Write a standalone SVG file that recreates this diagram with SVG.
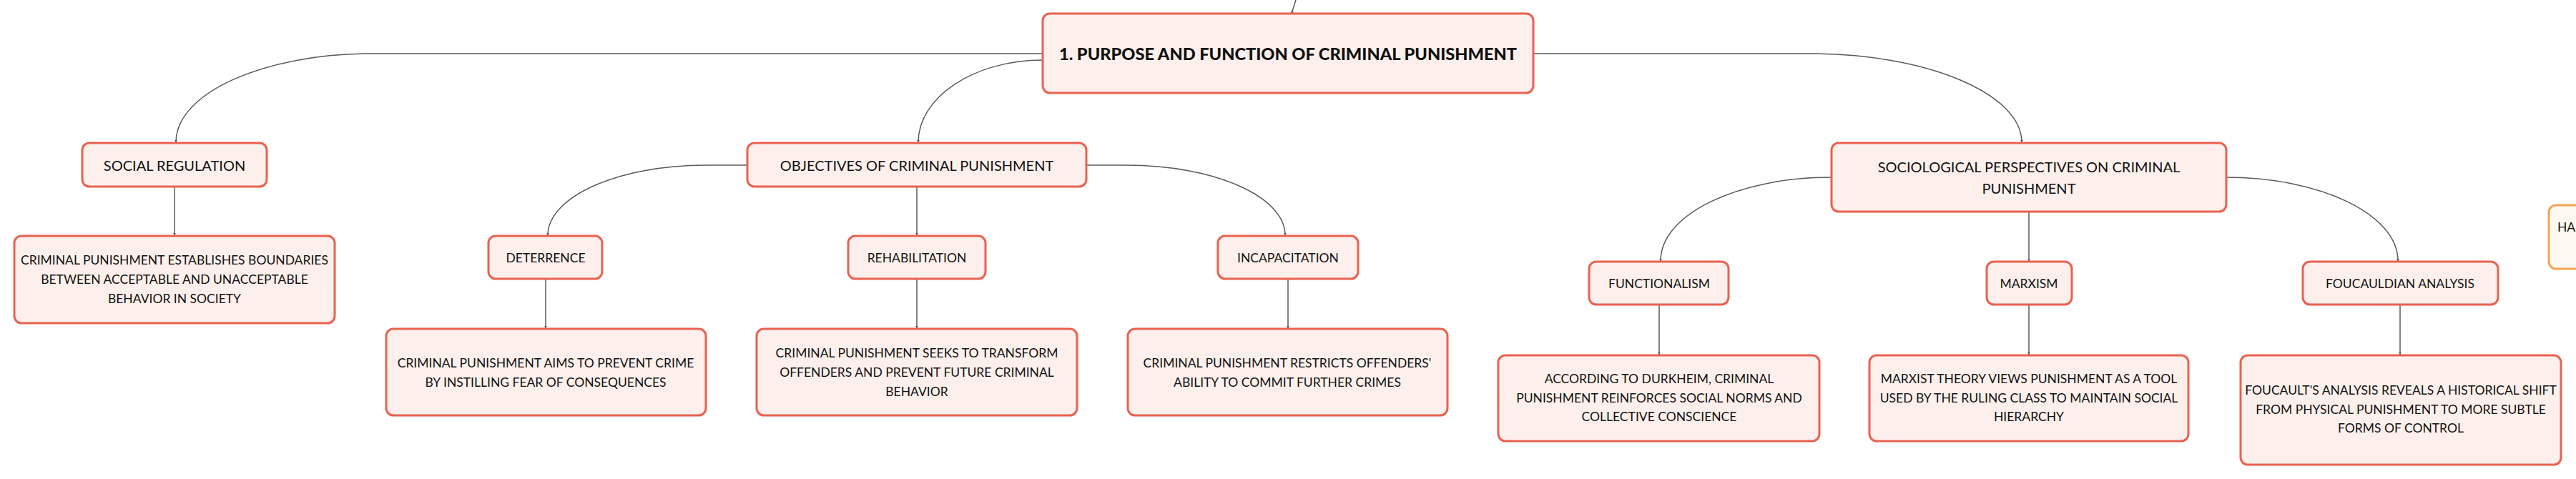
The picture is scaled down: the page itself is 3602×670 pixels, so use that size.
<svg xmlns="http://www.w3.org/2000/svg" width="3602" height="670" viewBox="0 0 3602 670">
<style>
.box{fill:#FDF0EC;stroke:#EA6150;stroke-width:3}
.obox{fill:#FFF8F0;stroke:#F2A552;stroke-width:3}
.t{font-family:Lato,"Noto Sans","Liberation Sans",sans-serif;fill:#111;text-anchor:middle;dominant-baseline:central}
.t18{font-size:17.5px}
.t20{font-size:20px}
.root{font-size:23.6px;font-weight:900}
.c{fill:none;stroke:#5a5a5a;stroke-width:1.5;marker-end:url(#ah)}
</style>
<defs>
<marker id="ah" viewBox="0 0 6 6" refX="5" refY="3" markerWidth="4" markerHeight="4" orient="auto" markerUnits="userSpaceOnUse">
<path d="M0,0 L6,3 L0,6 z" fill="#5a5a5a"/>
</marker>
</defs>
<rect width="3602" height="670" fill="#ffffff"/>
<g id="connectors">
<path class="c" d="M1812,0 L1806,19"/>
<path class="c" d="M1458,75 H520 C369,75 246,130 246,199"/>
<path class="c" d="M1458,84 C1362,84 1284,136 1284,199"/>
<path class="c" d="M1045,231 H987 C865,231 766,275 766,329"/>
<path class="c" d="M1282,261 V329"/>
<path class="c" d="M1519,231 H1575 C1698,231 1797,275 1797,329"/>
<path class="c" d="M244,261 V329"/>
<path class="c" d="M763,390 V459"/>
<path class="c" d="M1282,390 V459"/>
<path class="c" d="M1801,390 V459"/>
<path class="c" d="M2144,75 H2530 C2694,75 2827,131 2827,199"/>
<path class="c" d="M2561,248 C2429,248 2322,300 2322,365"/>
<path class="c" d="M2837,296 V365"/>
<path class="c" d="M3113,248 C3245,248 3353,300 3353,365"/>
<path class="c" d="M2320,426 V496"/>
<path class="c" d="M2837,426 V496"/>
<path class="c" d="M3356,426 V496"/>
</g>
<g id="root">
<rect class="box" x="1458" y="19" width="686" height="111" rx="10"/>
<text class="t root" x="1801" y="75">1. PURPOSE AND FUNCTION OF CRIMINAL PUNISHMENT</text>
</g>
<g id="social-regulation">
<rect class="box" x="115" y="200" width="258" height="61" rx="10"/>
<text class="t t20" x="244" y="231">SOCIAL REGULATION</text>
</g>
<g id="social-regulation-desc">
<rect class="box" x="20" y="330" width="448" height="122" rx="10"/>
<text class="t t18" x="244" y="363">CRIMINAL PUNISHMENT ESTABLISHES BOUNDARIES</text>
<text class="t t18" x="244" y="390">BETWEEN ACCEPTABLE AND UNACCEPTABLE</text>
<text class="t t18" x="244" y="417">BEHAVIOR IN SOCIETY</text>
</g>
<g id="objectives">
<rect class="box" x="1045" y="200" width="474" height="61" rx="10"/>
<text class="t t20" x="1282" y="231">OBJECTIVES OF CRIMINAL PUNISHMENT</text>
</g>
<g id="deterrence">
<rect class="box" x="683" y="330" width="159" height="60" rx="10"/>
<text class="t t18" x="763" y="360">DETERRENCE</text>
</g>
<g id="deterrence-desc">
<rect class="box" x="540" y="460" width="447" height="121" rx="10"/>
<text class="t t18" x="763" y="507">CRIMINAL PUNISHMENT AIMS TO PREVENT CRIME</text>
<text class="t t18" x="763" y="534">BY INSTILLING FEAR OF CONSEQUENCES</text>
</g>
<g id="rehabilitation">
<rect class="box" x="1186" y="330" width="192" height="60" rx="10"/>
<text class="t t18" x="1282" y="360">REHABILITATION</text>
</g>
<g id="rehabilitation-desc">
<rect class="box" x="1058" y="460" width="448" height="121" rx="10"/>
<text class="t t18" x="1282" y="493">CRIMINAL PUNISHMENT SEEKS TO TRANSFORM</text>
<text class="t t18" x="1282" y="520">OFFENDERS AND PREVENT FUTURE CRIMINAL</text>
<text class="t t18" x="1282" y="547">BEHAVIOR</text>
</g>
<g id="incapacitation">
<rect class="box" x="1703" y="330" width="196" height="60" rx="10"/>
<text class="t t18" x="1801" y="360">INCAPACITATION</text>
</g>
<g id="incapacitation-desc">
<rect class="box" x="1577" y="460" width="447" height="121" rx="10"/>
<text class="t t18" x="1800" y="507">CRIMINAL PUNISHMENT RESTRICTS OFFENDERS'</text>
<text class="t t18" x="1800" y="534">ABILITY TO COMMIT FURTHER CRIMES</text>
</g>
<g id="sociological">
<rect class="box" x="2561" y="200" width="552" height="96" rx="10"/>
<text class="t t20" x="2837" y="233">SOCIOLOGICAL PERSPECTIVES ON CRIMINAL</text>
<text class="t t20" x="2837" y="263">PUNISHMENT</text>
</g>
<g id="functionalism">
<rect class="box" x="2222" y="366" width="195" height="60" rx="10"/>
<text class="t t18" x="2320" y="396">FUNCTIONALISM</text>
</g>
<g id="functionalism-desc">
<rect class="box" x="2095" y="497" width="449" height="120" rx="10"/>
<text class="t t18" x="2320" y="529">ACCORDING TO DURKHEIM, CRIMINAL</text>
<text class="t t18" x="2320" y="556">PUNISHMENT REINFORCES SOCIAL NORMS AND</text>
<text class="t t18" x="2320" y="582">COLLECTIVE CONSCIENCE</text>
</g>
<g id="marxism">
<rect class="box" x="2778" y="366" width="119" height="60" rx="10"/>
<text class="t t18" x="2837" y="396">MARXISM</text>
</g>
<g id="marxism-desc">
<rect class="box" x="2614" y="497" width="446" height="120" rx="10"/>
<text class="t t18" x="2837" y="529">MARXIST THEORY VIEWS PUNISHMENT AS A TOOL</text>
<text class="t t18" x="2837" y="556">USED BY THE RULING CLASS TO MAINTAIN SOCIAL</text>
<text class="t t18" x="2837" y="582">HIERARCHY</text>
</g>
<g id="foucauldian">
<rect class="box" x="3220" y="366" width="273" height="60" rx="10"/>
<text class="t t18" x="3356" y="396">FOUCAULDIAN ANALYSIS</text>
</g>
<g id="foucauldian-desc">
<rect class="box" x="3133" y="497" width="448" height="153" rx="10"/>
<text class="t t18" x="3357" y="545">FOUCAULT'S ANALYSIS REVEALS A HISTORICAL SHIFT</text>
<text class="t t18" x="3357" y="572">FROM PHYSICAL PUNISHMENT TO MORE SUBTLE</text>
<text class="t t18" x="3357" y="598">FORMS OF CONTROL</text>
</g>
<g id="partial-node">
<rect class="obox" x="3564" y="287" width="80" height="89" rx="10"/>
<text class="t t18" x="3576" y="317" style="text-anchor:start">HA</text>
</g>
</svg>
